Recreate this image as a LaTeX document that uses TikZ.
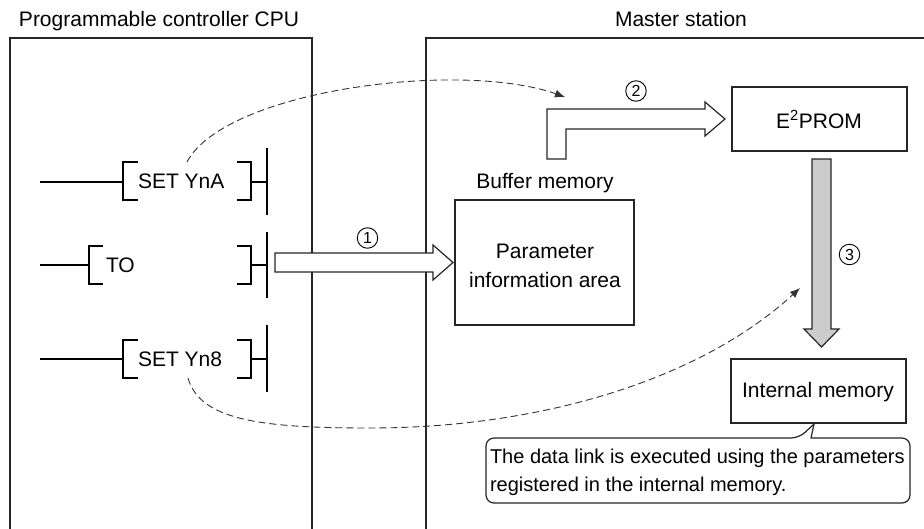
\documentclass[tikz,border=0pt]{standalone}
\usepackage{fontspec}
\setmainfont{Liberation Sans}
\usetikzlibrary{arrows.meta,calc}
\begin{document}
\begin{tikzpicture}[x=1pt,y=-1pt,
  every node/.style={inner sep=0pt, outer sep=0pt},
  txt/.style={font=\fontsize{21}{25}\selectfont},
  smalltxt/.style={font=\fontsize{20}{24}\selectfont},
  frame/.style={line width=1.2pt, draw=black!85},
  box/.style={draw=black!85, line width=1.2pt, fill=white},
  ladder/.style={line width=1.8pt, draw=black, line join=miter},
  hollow/.style={draw=black!85, line width=1.2pt, fill=white, line join=miter},
  grayarrow/.style={draw=black!85, line width=1.2pt, fill=black!20, line join=miter},
  dashcurve/.style={draw=black!80, line width=0.9pt, dash pattern=on 7pt off 4pt, -{Latex[length=10pt,width=8pt]}},
  num/.style={circle, draw=black, line width=0.9pt, minimum size=20.5pt, inner sep=0pt, font=\fontsize{16}{16}\selectfont},
]
\useasboundingbox (0,0) rectangle (924,528);
\clip (0,0) rectangle (924,528);
\fill[white] (0,0) rectangle (924,528);

% outer frames (open at the bottom / right)
\draw[frame] (10,540) -- (10,38) -- (312,38) -- (312,540);
\draw[frame] (426,540) -- (426,38) -- (940,38);

% titles
\node[txt, anchor=base west] (tcpu) at (19,26) {Programmable controller CPU};
\node[txt, anchor=base] (tmaster) at (681,26) {Master station};

% ladder rung: SET YnA
\draw[ladder] (40,182) -- (123,182);
\draw[ladder] (138,162) -- (123,162) -- (123,200) -- (138,200);
\draw[ladder] (237,162) -- (251,162) -- (251,200) -- (237,200);
\draw[ladder] (251,182) -- (267,182);
\draw[ladder] (267,148) -- (267,215);
\node[txt, anchor=base west] (setyna) at (138,188.5) {SET YnA};

% ladder rung: TO
\draw[ladder] (40,265) -- (89,265);
\draw[ladder] (103,246) -- (89,246) -- (89,284) -- (103,284);
\draw[ladder] (237,246) -- (251,246) -- (251,284) -- (237,284);
\draw[ladder] (251,265) -- (267,265);
\draw[ladder] (267,232) -- (267,298);
\node[txt, anchor=base west] (to) at (106,272) {TO};

% ladder rung: SET Yn8
\draw[ladder] (40,359) -- (123,359);
\draw[ladder] (138,340) -- (123,340) -- (123,378) -- (138,378);
\draw[ladder] (237,340) -- (251,340) -- (251,378) -- (237,378);
\draw[ladder] (251,359) -- (267,359);
\draw[ladder] (267,325) -- (267,392);
\node[txt, anchor=base west] (setyn8) at (138,366.5) {SET Yn8};

% master station boxes
\node[box, minimum width=175pt, minimum height=64pt] (eprom) at (819.5,119) {};
\node[txt, anchor=base] (eromtxt) at (819,128.5) {E\textsuperscript{2}PROM};

\node[txt, anchor=base] (buf) at (545,188) {Buffer memory};
\node[box, minimum width=179pt, minimum height=125pt] (param) at (544.5,262.5) {};
\node[txt, anchor=base] (par1) at (545,258) {Parameter};
\node[txt, anchor=base] (par2) at (545,287) {information area};

\node[box, minimum width=175pt, minimum height=64pt] (intmem) at (818.5,391) {};
\node[txt, anchor=base] (inttxt) at (818,397.5) {Internal memory};

% callout
\draw[box, rounded corners=8pt] (700,503) -- (486,503) -- (486,438) -- (799,438)
  [sharp corners] -- (814,424) -- (811,438) -- (830,438)
  [rounded corners=8pt] -- (910,438) -- (910,503) -- cycle;
\node[smalltxt, anchor=base west] (cl1) at (490,463) {The data link is executed using the parameters};
\node[smalltxt, anchor=base west] (cl2) at (490,491) {registered in the internal memory.};

% dashed curves
\draw[dashcurve] (187,162) .. controls (225,90) and (460,60) .. (565,97);
\draw[dashcurve] (188,378) .. controls (200,420) and (260,428) .. (370,428)
  .. controls (540,428) and (700,380) .. (800,288);

% block arrow 1 (TO -> parameter area)
\draw[hollow] ($(param.west)+(-180,-9.5)$) -- ++(158,0) -- ++(0,-8)
  -- ($(param.west)+(-2,0)$) -- ++(-20,17.5) -- ++(0,-8) -- ++(-158,0) -- cycle;
\node[num] (n1) at (367.5,238) {1};

% block arrow 2 (buffer memory -> E2PROM)
\draw[hollow] (547,159) -- (547,109) -- (705,109) -- (705,102)
  -- ($(eprom.west)+(-7,0)$) -- (705,136) -- (705,129) -- (566,129) -- (566,159) -- cycle;
\node[num] (n2) at (636,91) {2};

% block arrow 3 (E2PROM -> internal memory)
\draw[grayarrow] (812,159) -- (831,159) -- (831,329) -- (839,329)
  -- (821.5,347) -- (804,329) -- (812,329) -- cycle;
\node[num] (n3) at (849.5,254.5) {3};
\end{tikzpicture}
\end{document}
